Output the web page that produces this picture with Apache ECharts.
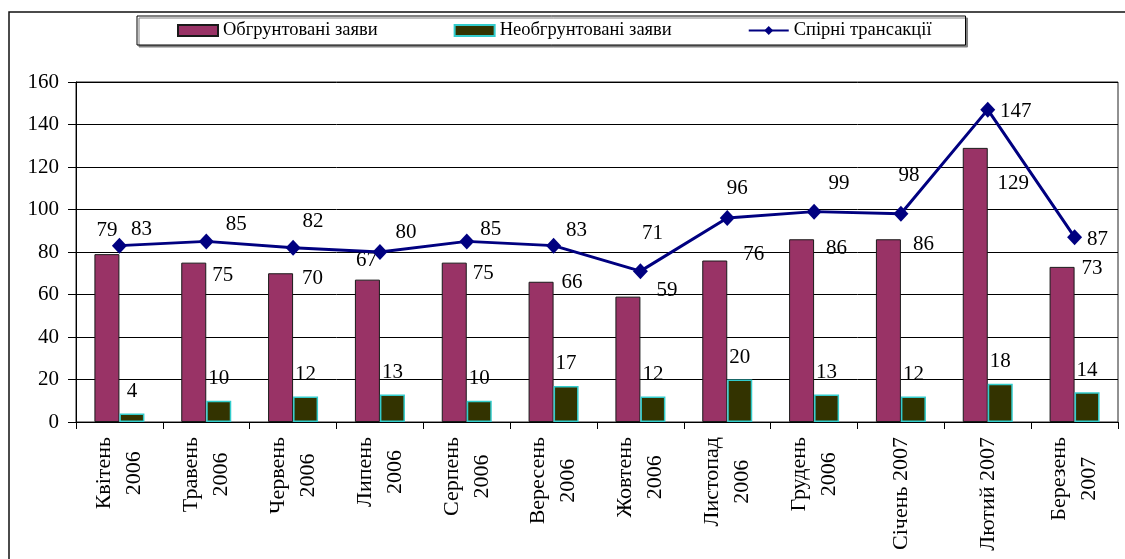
<!DOCTYPE html>
<html>
<head>
<meta charset="utf-8">
<script src="https://cdn.jsdelivr.net/npm/echarts@6/dist/echarts.min.js"></script>
<style>
  html, body { margin: 0; padding: 0; background: #fff; }
  #chart { width: 1125px; height: 559px; }
</style>
</head>
<body>
<div id="chart"></div>
<script>
// Monthly claims and disputed transactions, April 2006 – March 2007
const months = [
  'Квітень\n2006', 'Травень\n2006', 'Червень\n2006', 'Липень\n2006',
  'Серпень\n2006', 'Вересень\n2006', 'Жовтень\n2006', 'Листопад\n2006',
  'Грудень\n2006', 'Січень 2007', 'Лютий 2007', 'Березень\n2007'
];
const grounded   = [79, 75, 70, 67, 75, 66, 59, 76, 86, 86, 129, 73];
const ungrounded = [4, 10, 12, 13, 10, 17, 12, 20, 13, 12, 18, 14];
const disputed   = [83, 85, 82, 80, 85, 83, 71, 96, 99, 98, 147, 87];
const seriesNames = ['Обгрунтовані заяви', 'Необгрунтовані заяви', 'Спірні трансакції'];
const yMin = 0, yMax = 160, yStep = 20;

// Nudges (px) for value tags so they clear the line and its markers
const groundedLabelShift = [[0,-13],[29,23],[32,16],[-1,-9],[29,21],[31,11],[39,4],[39,4],[35,20],[35,16],[38,46],[30,12]];
const disputedLabelShift = [[22,-16],[30,-17],[20,-26],[26,-20],[24,-12],[23,-15],[12,-38],[10,-30],[25,-28],[8,-38],[28,2],[23,2]];

const FONT = '"Liberation Serif", "Times New Roman", serif';
const txt = { fontFamily: FONT, fontSize: 21, color: '#000' };

const chart = echarts.init(document.getElementById('chart'), null, { renderer: 'canvas' });

chart.setOption({
  animation: false,
  backgroundColor: '#fff',
  graphic: [{
    type: 'rect',
    z: 0,
    shape: { x: 9, y: 12, width: 1300, height: 700 },
    style: { fill: 'none', stroke: '#111', lineWidth: 1.5 },
    silent: true
  }],
  legend: {
    left: 137,
    top: 16,
    padding: [5, 34, 5, 40],
    itemGap: 76,
    itemWidth: 40,
    itemHeight: 11,
    backgroundColor: '#fff',
    borderColor: '#000',
    borderWidth: 1,
    shadowColor: '#808080',
    shadowOffsetX: 2,
    shadowOffsetY: 2,
    shadowBlur: 0,
    textStyle: { fontFamily: FONT, fontSize: 18.5, color: '#000' },
    data: [
      { name: seriesNames[0], icon: 'rect' },
      { name: seriesNames[1], icon: 'rect' },
      { name: seriesNames[2] }
    ]
  },
  grid: {
    left: 76, right: 7, top: 82, bottom: 137,
    show: true, borderColor: '#222', borderWidth: 1
  },
  xAxis: {
    type: 'category',
    data: months,
    boundaryGap: true,
    axisLine: { lineStyle: { color: '#000', width: 1 } },
    axisTick: { show: true, length: 7, lineStyle: { color: '#000' } },
    axisLabel: {
      rotate: 90,
      margin: 15,
      interval: 0,
      formatter: v => v.split('\n').map(s => '{c|' + s + '}').join('\n'),
      rich: {
        c: { align: 'center', fontFamily: FONT, fontSize: 22, lineHeight: 30, color: '#000' }
      }
    },
    splitLine: { show: false }
  },
  yAxis: {
    type: 'value',
    min: yMin, max: yMax, interval: yStep,
    axisLine: { show: true, lineStyle: { color: '#000', width: 1 } },
    axisTick: { show: true, length: 8, lineStyle: { color: '#000' } },
    axisLabel: Object.assign({ margin: 17 }, txt),
    splitLine: { show: true, lineStyle: { color: '#000', width: 1 } }
  },
  series: [
    {
      name: seriesNames[0],
      type: 'bar',
      barWidth: 25,
      barGap: '0%',
      itemStyle: { color: '#993366', borderColor: '#1a1a1a', borderWidth: 1 },
      label: Object.assign({ show: true, position: 'top', distance: 0 }, txt),
      data: grounded.map((v, i) => ({ value: v, label: { offset: groundedLabelShift[i] } })),
      z: 2
    },
    {
      name: seriesNames[1],
      type: 'bar',
      barWidth: 25,
      barGap: '0%',
      itemStyle: { color: '#333300', borderColor: '#33CCCC', borderWidth: 1.5 },
      label: Object.assign({ show: true, position: 'top', distance: 11.5 }, txt),
      data: ungrounded,
      z: 2
    },
    {
      name: seriesNames[2],
      type: 'line',
      symbol: 'diamond',
      symbolSize: [15, 16],
      lineStyle: { color: '#000080', width: 3 },
      itemStyle: { color: '#000080' },
      label: Object.assign({ show: true, position: 'inside' }, txt),
      data: disputed.map((v, i) => ({ value: v, label: { offset: disputedLabelShift[i] } })),
      z: 3
    }
  ]
});
</script>
</body>
</html>
